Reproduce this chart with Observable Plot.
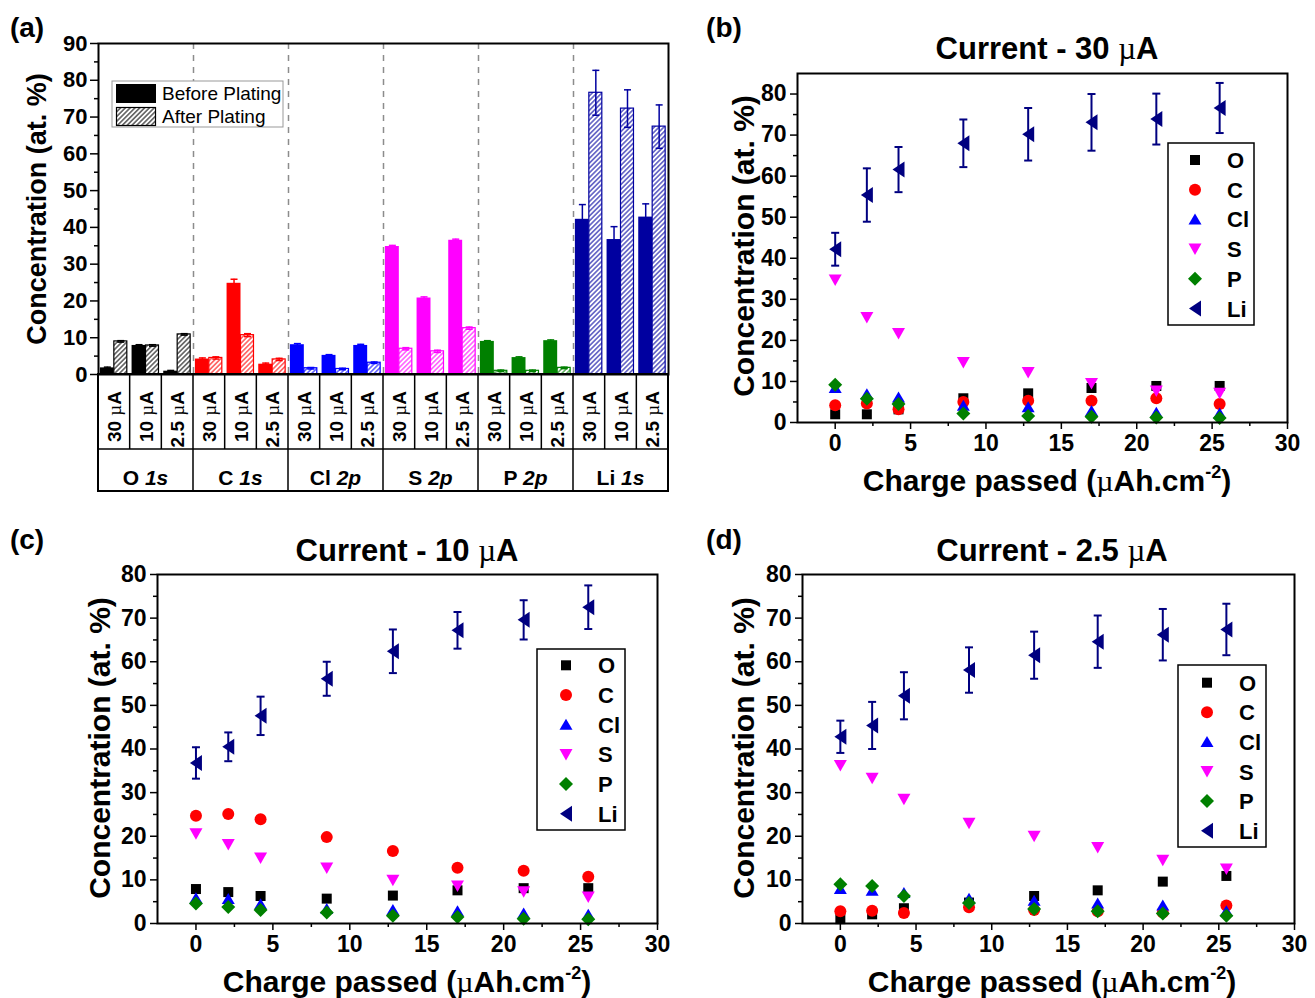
<!DOCTYPE html>
<html><head><meta charset="utf-8">
<script src="https://cdn.jsdelivr.net/npm/d3@7"></script>
<script src="https://cdn.jsdelivr.net/npm/@observablehq/plot@0.6"></script>
<style>
body{margin:0;background:#fff;}
#wrap{position:relative;width:1315px;height:998px;font-family:"Liberation Sans",Arial,sans-serif;font-weight:bold;color:#000;overflow:hidden;}
.abs{position:absolute;white-space:nowrap;line-height:1;}
.mu{font-family:"Liberation Serif","DejaVu Serif",serif;font-weight:normal;}
sup{font-size:0.6em;vertical-align:0.7em;line-height:0;}
</style></head><body><div id="wrap"></div>
<script>
// ---------- Panel (a) data ----------
const elements = ["O", "C", "Cl", "S", "P", "Li"];
const orbitals = ["1s", "1s", "2p", "2p", "2p", "1s"];
const currents = ["30", "10", "2.5"];
const barColors = ["#000000", "#ff0000", "#0000ff", "#ff00ff", "#008000", "#0000a0"];
const barBefore    = [1.8, 7.9, 0.9, 4.2, 24.8, 2.8, 8.1, 5.2, 7.9, 34.8, 20.8, 36.5, 9.0, 4.6, 9.2, 42.2, 36.7, 42.8];
const barBeforeErr = [0.2, 0.2, 0.2, 0.3, 1.1, 0.3, 0.3, 0.2, 0.3, 0.3, 0.3, 0.3, 0.2, 0.2, 0.2, 4.0, 3.5, 3.6];
const barAfter     = [9.0, 7.9, 10.9, 4.5, 10.7, 4.1, 1.7, 1.5, 3.2, 7.0, 6.3, 12.6, 1.0, 1.0, 1.8, 76.6, 72.3, 67.4];
const barAfterErr  = [0.2, 0.2, 0.2, 0.3, 0.4, 0.3, 0.2, 0.2, 0.2, 0.3, 0.3, 0.3, 0.2, 0.2, 0.2, 6.1, 5.1, 5.9];
const legendA = ["Before Plating", "After Plating"];

// ---------- Scatter data ----------
const charge = [0, 2.1, 4.2, 8.5, 12.8, 17, 21.3, 25.5];
const seriesNames = ["O", "C", "Cl", "S", "P", "Li"];
const seriesColors = ["#000000", "#ff0000", "#0000ff", "#ff00ff", "#008000", "#000080"];

const b_O  = [2.0, 2.0, 3.2, 5.9, 7.1, 8.4, 8.9, 8.9];
const b_C  = [4.2, 4.6, 3.2, 5.0, 5.3, 5.3, 5.9, 4.5];
const b_Cl = [8.4, 6.9, 6.1, 4.1, 3.7, 2.8, 2.4, 2.2];
const b_S  = [34.7, 25.6, 21.7, 14.6, 12.2, 9.5, 7.7, 7.1];
const b_P  = [9.2, 5.8, 4.5, 2.2, 1.6, 1.4, 1.2, 1.1];
const b_Li = [42.2, 55.4, 61.6, 68.0, 70.2, 73.1, 73.9, 76.6];
const b_LiErr = [4.0, 6.5, 5.5, 5.8, 6.4, 6.9, 6.2, 6.1];

const c_O  = [7.9, 7.2, 6.3, 5.7, 6.4, 7.6, 8.1, 8.1];
const c_C  = [24.7, 25.1, 23.9, 19.8, 16.6, 12.8, 12.1, 10.7];
const c_Cl = [5.8, 5.6, 4.4, 3.3, 3.1, 2.8, 2.3, 2.0];
const c_S  = [20.6, 18.1, 15.0, 12.7, 9.9, 8.6, 7.3, 6.1];
const c_P  = [4.6, 3.8, 3.1, 2.5, 1.8, 1.5, 1.1, 1.0];
const c_Li = [36.8, 40.5, 47.6, 56.1, 62.4, 67.2, 69.6, 72.5];
const c_LiErr = [3.6, 3.3, 4.4, 3.9, 5.0, 4.2, 4.5, 5.0];

const d_O  = [1.0, 2.1, 3.5, 4.8, 6.3, 7.6, 9.6, 10.9];
const d_C  = [2.8, 2.9, 2.4, 3.7, 3.1, 2.8, 2.5, 4.1];
const d_Cl = [7.9, 7.5, 7.0, 5.7, 5.2, 4.6, 4.1, 2.8];
const d_S  = [36.2, 33.3, 28.5, 23.0, 20.0, 17.4, 14.5, 12.5];
const d_P  = [9.0, 8.6, 6.3, 4.7, 3.3, 2.8, 2.3, 1.8];
const d_Li = [42.8, 45.4, 52.2, 58.1, 61.5, 64.6, 66.2, 67.4];
const d_LiErr = [3.7, 5.4, 5.4, 5.2, 5.4, 6.0, 5.9, 5.9];

// ---------- helpers ----------
const W = document.getElementById("wrap");
const FONT = '"Liberation Sans", Arial, sans-serif';
function place(el, left, top) {
  el.style.position = "absolute"; el.style.left = left + "px"; el.style.top = top + "px";
  W.appendChild(el);
}
function label(html, cx, cy, size, rot = 0) {
  const d = document.createElement("div");
  d.className = "abs"; d.innerHTML = html;
  d.style.left = cx + "px"; d.style.top = cy + "px"; d.style.fontSize = size + "px";
  d.style.transform = `translate(-50%,-50%) rotate(${rot}deg)`;
  W.appendChild(d);
}
const mu = '<span class="mu">\u00b5</span>';

const sym = fn => ({draw(ctx) { fn(ctx); }});
const symbols = [
  sym(c => { c.moveTo(-5, -5); c.lineTo(5, -5); c.lineTo(5, 5); c.lineTo(-5, 5); c.closePath(); }),
  sym(c => { c.moveTo(6, 0); c.arc(0, 0, 6, 0, 2 * Math.PI); c.closePath(); }),
  sym(c => { c.moveTo(0, -6); c.lineTo(6.5, 5); c.lineTo(-6.5, 5); c.closePath(); }),
  sym(c => { c.moveTo(0, 6); c.lineTo(6.5, -5.5); c.lineTo(-6.5, -5.5); c.closePath(); }),
  sym(c => { c.moveTo(0, -7); c.lineTo(7, 0); c.lineTo(0, 7); c.lineTo(-7, 0); c.closePath(); }),
  sym(c => { c.moveTo(-6, 0); c.lineTo(6, -8); c.lineTo(6, 8); c.closePath(); })
];
const capSym = w => sym(c => { c.moveTo(-w, 0); c.lineTo(w, 0); });

const baseStyle = {fontFamily: FONT, fontWeight: "bold", fontSize: "23px", color: "#000", background: "transparent", overflow: "visible"};

// ---------- Panel (a) ----------
const slots = d3.range(18).map(i => {
  const k = Math.floor(i / 3);
  return {i, k, cur: currents[i % 3], color: barColors[k],
    before: barBefore[i], be: barBeforeErr[i], after: barAfter[i], ae: barAfterErr[i]};
});
const bx1 = 0.06, bx2 = 0.5, ax1 = 0.5, ax2 = 0.91;
const chartA = Plot.plot({
  width: 690, height: 500,
  marginLeft: 98, marginRight: 22, marginTop: 43, marginBottom: 126,
  style: {...baseStyle, fontSize: "22px"},
  x: {domain: [0, 18], axis: null},
  y: {domain: [0, 90], axis: null},
  color: {type: "identity"},
  marks: [
    Plot.ruleX([3, 6, 9, 12, 15], {stroke: "#8c8c8c", strokeWidth: 1.5, strokeDasharray: "6,6"}),
    Plot.rect(slots, {x1: d => d.i + bx1, x2: d => d.i + bx2, y1: d => 0, y2: "before", fill: "color"}),
    Plot.rect(slots, {x1: d => d.i + ax1, x2: d => d.i + ax2, y1: d => 0, y2: "after",
      fill: d => `url(#hatch${d.k})`, stroke: "color", strokeWidth: 1.2}),
    Plot.ruleX(slots, {x: d => d.i + (bx1 + bx2) / 2, y1: d => d.before - d.be, y2: d => d.before + d.be, stroke: "color", strokeWidth: 1.5}),
    Plot.dot(slots, {x: d => d.i + (bx1 + bx2) / 2, y: d => d.before + d.be, symbol: capSym(3.5), stroke: "color", fill: "none", strokeWidth: 1.5}),
    Plot.ruleX(slots, {x: d => d.i + (ax1 + ax2) / 2, y1: d => d.after - d.ae, y2: d => d.after + d.ae, stroke: "color", strokeWidth: 1.5}),
    Plot.dot(slots, {x: d => d.i + (ax1 + ax2) / 2, y: d => d.after + d.ae, symbol: capSym(3.5), stroke: "color", fill: "none", strokeWidth: 1.5}),
    Plot.dot(slots, {x: d => d.i + (ax1 + ax2) / 2, y: d => d.after - d.ae, symbol: capSym(3.5), stroke: "color", fill: "none", strokeWidth: 1.5}),
    Plot.axisY({ticks: d3.range(0, 91, 10), tickSize: 8, tickPadding: 3, strokeWidth: 1.5, label: null}),
    Plot.axisY({ticks: d3.range(5, 90, 10), tickSize: 4, text: null, strokeWidth: 1.5, label: null}),
    Plot.frame({stroke: "#000", strokeWidth: 2})
  ]
});
place(chartA, 0, 0);
{
  const svg = d3.select(chartA);
  const defs = svg.insert("defs", ":first-child");
  barColors.forEach((c, k) => {
    const s = 3.4;
    const p = defs.append("pattern").attr("id", "hatch" + k).attr("patternUnits", "userSpaceOnUse")
      .attr("width", s).attr("height", s).attr("patternTransform", "rotate(45)");
    p.append("rect").attr("width", s).attr("height", s).attr("fill", "#fff");
    p.append("line").attr("x1", s / 2).attr("x2", s / 2).attr("y1", -1).attr("y2", s + 1)
      .attr("stroke", c).attr("stroke-width", 1.0);
  });
  const sx = chartA.scale("x").apply, sy = chartA.scale("y").apply;
  const y0 = sy(0), yMid = y0 + 75, yBot = y0 + 117;
  const g = svg.append("g").attr("fill", "none").attr("stroke", "#000").attr("stroke-width", 1.5);
  g.append("rect").attr("x", sx(0)).attr("y", y0).attr("width", sx(18) - sx(0)).attr("height", yBot - y0).attr("stroke-width", 2);
  g.append("line").attr("x1", sx(0)).attr("x2", sx(18)).attr("y1", yMid).attr("y2", yMid);
  d3.range(1, 18).forEach(i => {
    g.append("line").attr("x1", sx(i)).attr("x2", sx(i)).attr("y1", y0).attr("y2", i % 3 === 0 ? yBot : yMid);
  });
  const gt = svg.append("g").attr("font-family", FONT).attr("font-weight", "bold").attr("fill", "#000");
  slots.forEach(s => {
    const t = gt.append("text").attr("font-size", 19).attr("text-anchor", "end")
      .attr("transform", `translate(${sx(s.i + 0.5) + 7},${y0 + 17}) rotate(-90)`);
    t.append("tspan").text(s.cur + " ");
    t.append("tspan").attr("font-family", '"Liberation Serif", serif').attr("font-weight", "normal").text("\u00b5");
    t.append("tspan").text("A");
  });
  elements.forEach((e, k) => {
    const t = gt.append("text").attr("font-size", 21).attr("text-anchor", "middle")
      .attr("x", sx(k * 3 + 1.5)).attr("y", y0 + 111);
    t.append("tspan").text(e + " ");
    t.append("tspan").attr("font-style", "italic").text(orbitals[k]);
  });
  // legend
  const lg = svg.append("g");
  lg.append("rect").attr("x", 112).attr("y", 81).attr("width", 171).attr("height", 46)
    .attr("fill", "#fff").attr("stroke", "#999").attr("stroke-width", 1);
  lg.append("rect").attr("x", 116).attr("y", 84).attr("width", 40).attr("height", 19).attr("fill", "#000");
  lg.append("rect").attr("x", 116.5).attr("y", 107.5).attr("width", 39).attr("height", 18)
    .attr("fill", "url(#hatch0)").attr("stroke", "#000").attr("stroke-width", 1.2);
  legendA.forEach((t, j) => {
    lg.append("text").attr("x", 162).attr("y", 100 + j * 23).attr("font-family", FONT).attr("text-anchor", "start")
      .attr("font-size", 19).attr("font-weight", "normal").attr("fill", "#000").text(t);
  });
}
label("(a)", 27, 28, 28);
label("Concentration (at. %)", 37, 209, 27, -90);

// ---------- Scatter panels ----------
function scatter(vals, liErr, opt) {
  const rows = [];
  seriesNames.forEach((n, s) => vals[s].forEach((v, i) => rows.push({x: charge[i], v, s, color: seriesColors[s]})));
  const li = charge.map((x, i) => ({x, v: vals[5][i], e: liErr[i]}));
  const marks = [
    Plot.axisX({ticks: d3.range(0, 31, 5), tickSize: 7, tickPadding: 5, strokeWidth: 1.5, label: null}),
    Plot.axisX({ticks: d3.range(2.5, 30, 5), tickSize: 4, text: null, strokeWidth: 1.5, label: null}),
    Plot.axisY({ticks: d3.range(0, opt.ymax + 0.1, 10).filter(t => t <= 80), tickSize: 7, tickPadding: 4, strokeWidth: 1.5, label: null}),
    Plot.axisY({ticks: d3.range(5, 80, 10), tickSize: 4, text: null, strokeWidth: 1.5, label: null}),
    Plot.ruleX(li, {x: "x", y1: d => d.v - d.e, y2: d => d.v + d.e, stroke: seriesColors[5], strokeWidth: 2}),
    Plot.dot(li, {x: "x", y: d => d.v + d.e, symbol: capSym(4), stroke: seriesColors[5], fill: "none", strokeWidth: 2}),
    Plot.dot(li, {x: "x", y: d => d.v - d.e, symbol: capSym(4), stroke: seriesColors[5], fill: "none", strokeWidth: 2})
  ];
  seriesNames.forEach((n, s) => {
    marks.push(Plot.dot(rows.filter(r => r.s === s), {x: "x", y: "v", symbol: symbols[s], fill: seriesColors[s], stroke: "none"}));
  });
  marks.push(Plot.frame({stroke: "#000", strokeWidth: 2}));
  const chart = Plot.plot({
    width: opt.width, height: opt.height,
    marginLeft: opt.ml, marginRight: opt.mr, marginTop: opt.mt, marginBottom: opt.mb,
    style: baseStyle,
    x: {domain: [-2.5, 30], axis: null},
    y: {domain: [0, opt.ymax], axis: null},
    marks
  });
  place(chart, opt.left, opt.top);
  // legend
  const svg = d3.select(chart);
  const L = opt.legend;
  const g = svg.append("g");
  g.append("rect").attr("x", L.x).attr("y", L.y).attr("width", L.w).attr("height", L.h)
    .attr("fill", "#fff").attr("stroke", "#000").attr("stroke-width", 1.5);
  seriesNames.forEach((n, s) => {
    const yy = L.ry + s * L.step;
    const p = d3.path(); symbols[s].draw(p);
    g.append("path").attr("d", p.toString()).attr("transform", `translate(${L.mx},${yy})`).attr("fill", seriesColors[s]);
    g.append("text").attr("x", L.tx).attr("y", yy + 8).attr("font-family", FONT).attr("font-weight", "bold")
      .attr("text-anchor", "start").attr("font-size", 22).attr("fill", "#000").text(n);
  });
  return chart;
}

scatter([b_O, b_C, b_Cl, b_S, b_P, b_Li], b_LiErr, {
  left: 690, top: 0, width: 625, height: 500, ml: 107, mr: 28, mt: 73, mb: 78, ymax: 85,
  legend: {x: 478, y: 143, w: 86, h: 182, mx: 505, tx: 537, ry: 160, step: 29.7}
});
scatter([c_O, c_C, c_Cl, c_S, c_P, c_Li], c_LiErr, {
  left: 0, top: 500, width: 690, height: 498, ml: 157, mr: 33, mt: 74, mb: 75, ymax: 80,
  legend: {x: 537, y: 149, w: 88, h: 181, mx: 566, tx: 598, ry: 165.3, step: 29.7}
});
scatter([d_O, d_C, d_Cl, d_S, d_P, d_Li], d_LiErr, {
  left: 690, top: 500, width: 625, height: 498, ml: 112, mr: 21, mt: 74, mb: 75, ymax: 80,
  legend: {x: 488, y: 165, w: 88, h: 182, mx: 517, tx: 549, ry: 182.7, step: 29.6}
});

label("(b)", 724, 28, 28);
label("(c)", 27, 540, 28);
label("(d)", 724, 540, 28);
label(`Current - 30 ${mu}A`, 1047, 48, 31);
label(`Current - 10 ${mu}A`, 407, 550, 31);
label(`Current - 2.5 ${mu}A`, 1052, 550, 31);
const xlab = `Charge passed (${mu}Ah.cm<sup>-2</sup>)`;
label(xlab, 1047, 481, 30);
label(xlab, 407, 982, 30);
label(xlab, 1052, 982, 30);
label("Concentration (at. %)", 744, 246, 30, -90);
label("Concentration (at. %)", 100, 748, 30, -90);
label("Concentration (at. %)", 744, 748, 30, -90);
</script>
</body></html>
